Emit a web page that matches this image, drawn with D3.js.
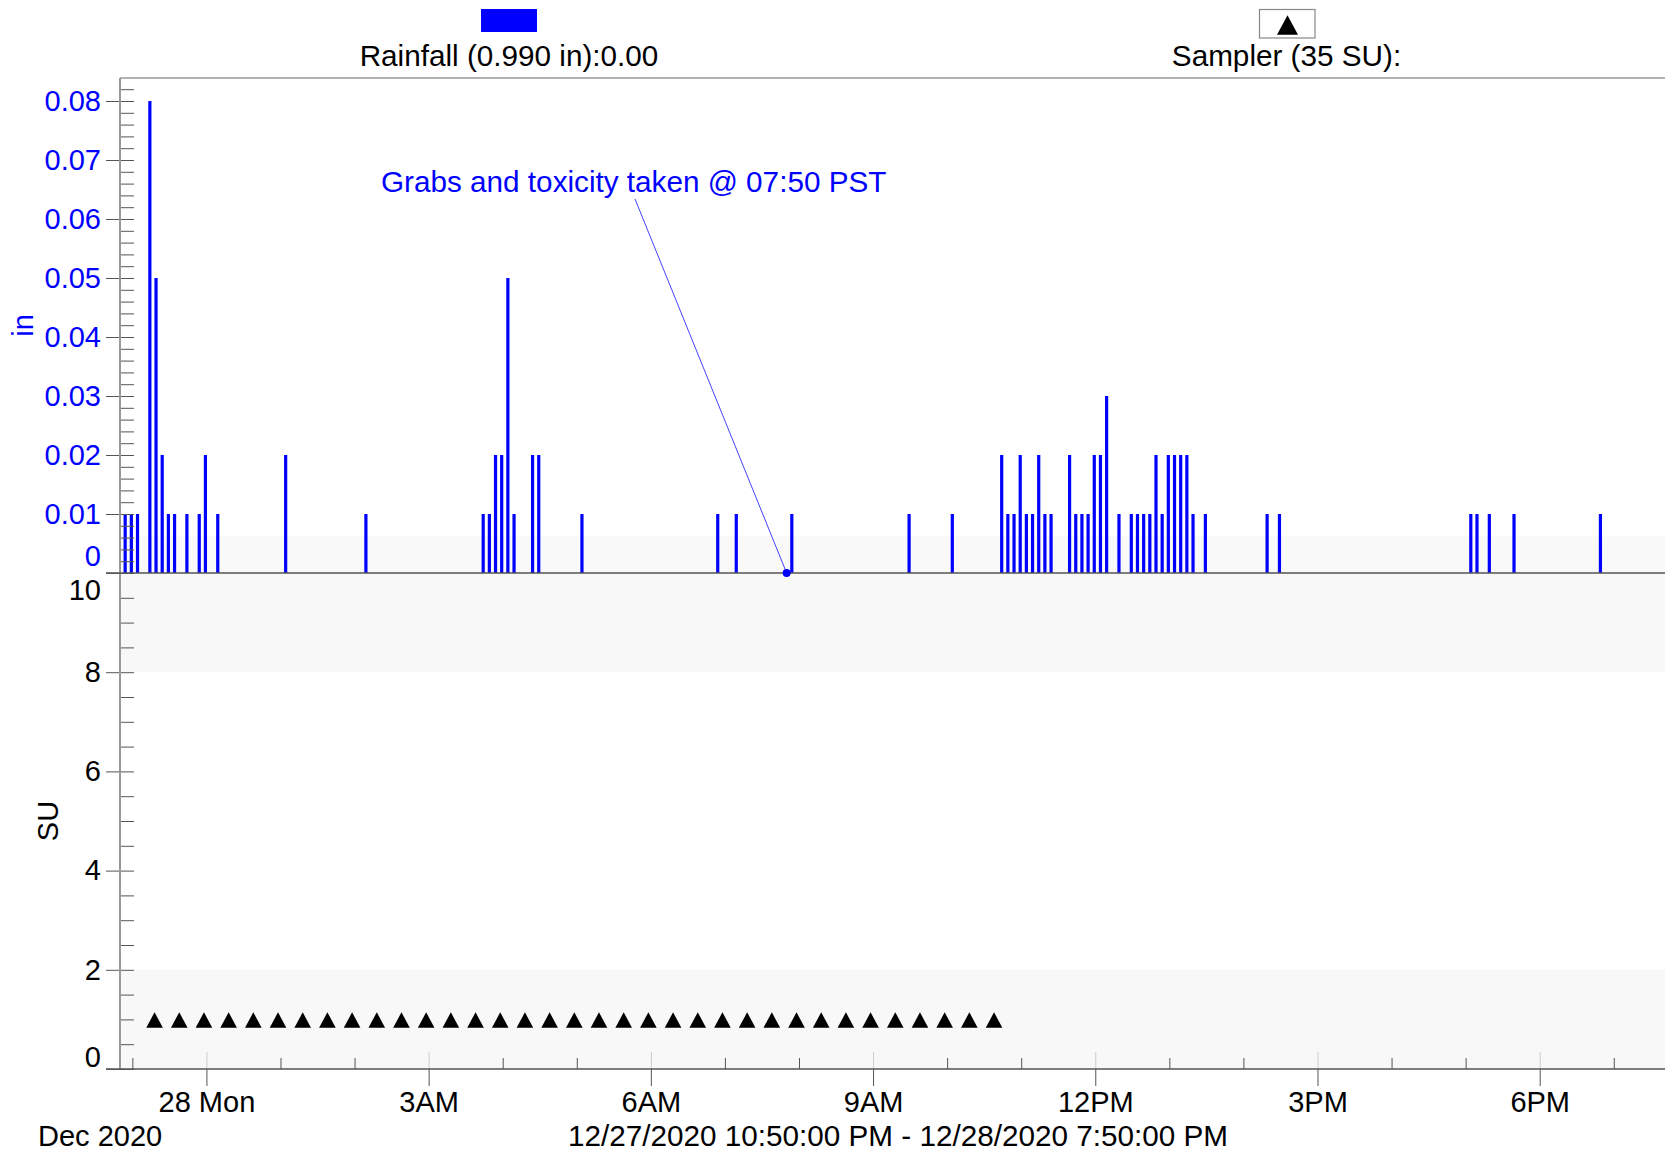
<!DOCTYPE html>
<html><head><meta charset="utf-8">
<script src="https://cdn.jsdelivr.net/npm/d3@7"></script>
<style>
html,body{margin:0;padding:0;background:#fff;overflow:hidden}
svg{display:block}
text{font-family:"Liberation Sans",Arial,sans-serif}
</style></head><body>
<svg id="chart" width="1665" height="1154"></svg>
<script>
// ---------------- DATA ----------------
const rainTimes = [
  "2020-12-27 22:55","2020-12-27 23:00","2020-12-27 23:05","2020-12-27 23:15","2020-12-27 23:20",
  "2020-12-27 23:25","2020-12-27 23:30","2020-12-27 23:35","2020-12-27 23:45","2020-12-27 23:55",
  "2020-12-28 00:00","2020-12-28 00:10","2020-12-28 01:05","2020-12-28 02:10",
  "2020-12-28 03:45","2020-12-28 03:50","2020-12-28 03:55","2020-12-28 04:00","2020-12-28 04:05",
  "2020-12-28 04:10","2020-12-28 04:25","2020-12-28 04:30","2020-12-28 05:05",
  "2020-12-28 06:55","2020-12-28 07:10","2020-12-28 07:55","2020-12-28 09:30","2020-12-28 10:05",
  "2020-12-28 10:45","2020-12-28 10:50","2020-12-28 10:55","2020-12-28 11:00","2020-12-28 11:05",
  "2020-12-28 11:10","2020-12-28 11:15","2020-12-28 11:20","2020-12-28 11:25",
  "2020-12-28 11:40","2020-12-28 11:45","2020-12-28 11:50","2020-12-28 11:55","2020-12-28 12:00",
  "2020-12-28 12:05","2020-12-28 12:10","2020-12-28 12:20","2020-12-28 12:30","2020-12-28 12:35",
  "2020-12-28 12:40","2020-12-28 12:45","2020-12-28 12:50","2020-12-28 12:55","2020-12-28 13:00",
  "2020-12-28 13:05","2020-12-28 13:10","2020-12-28 13:15","2020-12-28 13:20","2020-12-28 13:30",
  "2020-12-28 14:20","2020-12-28 14:30","2020-12-28 17:05","2020-12-28 17:10","2020-12-28 17:20",
  "2020-12-28 17:40","2020-12-28 18:50"
];
const rainValues = [
  0.01,0.01,0.01,0.08,0.05,
  0.02,0.01,0.01,0.01,0.01,
  0.02,0.01,0.02,0.01,
  0.01,0.01,0.02,0.02,0.05,
  0.01,0.02,0.02,0.01,
  0.01,0.01,0.01,0.01,0.01,
  0.02,0.01,0.01,0.02,0.01,
  0.01,0.02,0.01,0.01,
  0.02,0.01,0.01,0.01,0.02,
  0.02,0.03,0.01,0.01,0.01,
  0.01,0.01,0.02,0.01,0.02,
  0.02,0.02,0.02,0.01,0.01,
  0.01,0.01,0.01,0.01,0.01,
  0.01,0.01
];
const samplerTimes = [
  "2020-12-27 23:18","2020-12-27 23:38","2020-12-27 23:58",
  "2020-12-28 00:18","2020-12-28 00:38","2020-12-28 00:58",
  "2020-12-28 01:18","2020-12-28 01:38","2020-12-28 01:58",
  "2020-12-28 02:18","2020-12-28 02:38","2020-12-28 02:58",
  "2020-12-28 03:18","2020-12-28 03:38","2020-12-28 03:58",
  "2020-12-28 04:18","2020-12-28 04:38","2020-12-28 04:58",
  "2020-12-28 05:18","2020-12-28 05:38","2020-12-28 05:58",
  "2020-12-28 06:18","2020-12-28 06:38","2020-12-28 06:58",
  "2020-12-28 07:18","2020-12-28 07:38","2020-12-28 07:58",
  "2020-12-28 08:18","2020-12-28 08:38","2020-12-28 08:58",
  "2020-12-28 09:18","2020-12-28 09:38","2020-12-28 09:58",
  "2020-12-28 10:18","2020-12-28 10:38"
];
const samplerValues = [1,1,1,1,1,1,1,1,1,1,1,1,1,1,1,1,1,1,1,1,1,1,1,1,1,1,1,1,1,1,1,1,1,1,1];

const timeDomain = ["2020-12-27 22:50","2020-12-28 19:50"];
const timeTicks = ["2020-12-28 00:00","2020-12-28 03:00","2020-12-28 06:00","2020-12-28 09:00",
                   "2020-12-28 12:00","2020-12-28 15:00","2020-12-28 18:00"];
const timeTickLabels = ["28 Mon","3AM","6AM","9AM","12PM","3PM","6PM"];
const timeMinorTicks = ["2020-12-27 23:00","2020-12-28 01:00","2020-12-28 02:00","2020-12-28 04:00",
  "2020-12-28 05:00","2020-12-28 07:00","2020-12-28 08:00","2020-12-28 10:00","2020-12-28 11:00",
  "2020-12-28 13:00","2020-12-28 14:00","2020-12-28 16:00","2020-12-28 17:00","2020-12-28 19:00"];

const rainDomain = [0, 0.08];
const rainTicks = [0,0.01,0.02,0.03,0.04,0.05,0.06,0.07,0.08];
const rainTickLabels = ["0","0.01","0.02","0.03","0.04","0.05","0.06","0.07","0.08"];
const rainMinorTicks = [0,0.002,0.004,0.006,0.008,0.01,0.012,0.014,0.016,0.018,0.02,0.022,0.024,0.026,0.028,
  0.03,0.032,0.034,0.036,0.038,0.04,0.042,0.044,0.046,0.048,0.05,0.052,0.054,0.056,0.058,
  0.06,0.062,0.064,0.066,0.068,0.07,0.072,0.074,0.076,0.078,0.08,0.082];
const suDomain = [0, 10];
const suTicks = [0,2,4,6,8,10];
const suTickLabels = ["0","2","4","6","8","10"];
const suMinorTicks = [0,0.5,1,1.5,2,2.5,3,3.5,4,4.5,5,5.5,6,6.5,7,7.5,8,8.5,9,9.5,10];
const suBands = [[8,10],[0,2]];
const rainBands = [[0,0.0062]];

const annotationTime = "2020-12-28 07:50";
const annotationText = "Grabs and toxicity taken @ 07:50 PST";
const rainLegend = "Rainfall (0.990 in):0.00";
const samplerLegend = "Sampler (35 SU):";
const dateLabel = "Dec 2020";
const rangeLabel = "12/27/2020 10:50:00 PM - 12/28/2020 7:50:00 PM";

// ---------------- LAYOUT ----------------
const W = 1665, H = 1154;
const L = 120, R = 1675.5;
const topY = 78, midY = 573, botY = 1069;
const BLUE = "#0000ff";
const FS = 29;      // tick labels
const FSL = 29.7;   // legend / annotation / footer

const parse = d3.timeParse("%Y-%m-%d %H:%M");
const x = d3.scaleTime().domain(timeDomain.map(parse)).range([L, R]);
const yRain = d3.scaleLinear().domain(rainDomain).range([midY, 101]);
const ySU = d3.scaleLinear().domain(suDomain).range([botY, midY]);

const svg = d3.select("#chart");
svg.append("rect").attr("width", W).attr("height", H).attr("fill", "#fff");

// background bands
svg.append("g").selectAll("rect").data(suBands).join("rect")
  .attr("x", L).attr("width", W - L)
  .attr("y", d => ySU(d[1])).attr("height", d => ySU(d[0]) - ySU(d[1]))
  .attr("fill", "#f8f8f8");
svg.append("g").selectAll("rect").data(rainBands).join("rect")
  .attr("x", L).attr("width", W - L)
  .attr("y", d => yRain(d[1])).attr("height", d => yRain(d[0]) - yRain(d[1]))
  .attr("fill", "#f9f9f9");

// top border
svg.append("line").attr("x1", L).attr("x2", W).attr("y1", topY).attr("y2", topY)
  .attr("stroke", "#999").attr("stroke-width", 1.5);

// rain bars
const rain = rainTimes.map((t, i) => ({t: parse(t), v: rainValues[i]}));
svg.append("g").selectAll("rect").data(rain).join("rect")
  .attr("x", d => x(d.t) - 2.6).attr("width", 3.2)
  .attr("y", d => yRain(d.v)).attr("height", d => yRain(0) - yRain(d.v))
  .attr("fill", BLUE);

// sampler triangles
const tri = {
  draw(ctx, size) {
    const w = Math.sqrt(size), h = w * 0.93;
    ctx.moveTo(0, -h / 2); ctx.lineTo(w / 2, h / 2); ctx.lineTo(-w / 2, h / 2); ctx.closePath();
  }
};
const samp = samplerTimes.map((t, i) => ({t: parse(t), v: samplerValues[i]}));
svg.append("g").selectAll("path").data(samp).join("path")
  .attr("transform", d => `translate(${x(d.t)},${ySU(d.v) + 0.6})`)
  .attr("d", d3.symbol().type(tri).size(16.6 * 16.6))
  .attr("fill", "#000");

// ---------------- AXES ----------------
function styleAxis(g, color, stroke) {
  g.select(".domain").remove();
  g.selectAll(".tick line").attr("stroke", stroke || "#555");
  g.selectAll(".tick text").attr("fill", color || "#000").attr("font-size", FS)
    .attr("font-family", '"Liberation Sans",Arial,sans-serif');
}
// upper y axis
svg.append("g").attr("transform", `translate(${L},0)`)
  .call(d3.axisLeft(yRain).tickValues(rainMinorTicks).tickSize(-14).tickFormat(""))
  .call(g => styleAxis(g));
const gRain = svg.append("g").attr("transform", `translate(${L},0)`)
  .call(d3.axisLeft(yRain).tickValues(rainTicks).tickSize(14).tickPadding(5)
        .tickFormat((d, i) => rainTickLabels[i]))
  .call(g => styleAxis(g, BLUE));
gRain.selectAll(".tick text").filter(d => d === 0).attr("dy", "-0.27em");

// lower y axis
svg.append("g").attr("transform", `translate(${L},0)`)
  .call(d3.axisLeft(ySU).tickValues(suMinorTicks).tickSize(-14).tickFormat(""))
  .call(g => styleAxis(g));
const gSU = svg.append("g").attr("transform", `translate(${L},0)`)
  .call(d3.axisLeft(ySU).tickValues(suTicks).tickSize(14).tickPadding(5)
        .tickFormat((d, i) => suTickLabels[i]))
  .call(g => styleAxis(g, "#000"));
gSU.selectAll(".tick text").filter(d => d === 10).attr("dy", "0.91em");
gSU.selectAll(".tick text").filter(d => d === 0).attr("dy", "-0.1em");

// left axis line
svg.append("line").attr("x1", L).attr("x2", L).attr("y1", topY).attr("y2", botY)
  .attr("stroke", "#999").attr("stroke-width", 2);

// x axis
const gx = svg.append("g").attr("transform", `translate(0,${botY})`);
gx.append("g")
  .call(d3.axisBottom(x).tickValues(timeTicks.map(parse)).tickSize(-17).tickFormat(""))
  .call(g => styleAxis(g, "#000", "#ccc"));
gx.append("g")
  .call(d3.axisBottom(x).tickValues(timeMinorTicks.map(parse)).tickSize(-11).tickFormat(""))
  .call(g => styleAxis(g));
gx.append("g")
  .call(d3.axisBottom(x).tickValues(timeTicks.map(parse)).tickSize(17).tickPadding(5)
        .tickFormat((d, i) => timeTickLabels[i]))
  .call(g => styleAxis(g, "#000"));

// divider line and bottom axis line
svg.append("line").attr("x1", 106).attr("x2", W).attr("y1", midY).attr("y2", midY)
  .attr("stroke", "#555").attr("stroke-width", 1.5);
svg.append("line").attr("x1", 106).attr("x2", W).attr("y1", botY).attr("y2", botY)
  .attr("stroke", "#555").attr("stroke-width", 1.5);

// axis titles
svg.append("text").attr("transform", `translate(33,${(topY + midY) / 2}) rotate(-90)`)
  .attr("text-anchor", "middle").attr("font-size", FS).attr("fill", BLUE).text("in");
svg.append("text").attr("transform", `translate(58,${(midY + botY) / 2}) rotate(-90)`)
  .attr("text-anchor", "middle").attr("font-size", FS).attr("fill", "#000").text("SU");

// bottom labels
svg.append("text").attr("x", 38).attr("y", 1146).attr("font-size", FS).attr("fill", "#000").text(dateLabel);
svg.append("text").attr("x", 898).attr("y", 1146).attr("text-anchor", "middle")
  .attr("font-size", FSL).attr("fill", "#000").text(rangeLabel);

// annotation
const ax = x(parse(annotationTime)), ay = yRain(0);
svg.append("line").attr("x1", 635).attr("y1", 199).attr("x2", ax).attr("y2", ay)
  .attr("stroke", "#4444ff").attr("stroke-width", 1);
svg.append("circle").attr("cx", ax).attr("cy", ay).attr("r", 4).attr("fill", BLUE);
svg.append("text").attr("x", 381).attr("y", 192).attr("font-size", FSL).attr("fill", BLUE)
  .text(annotationText);

// legend
svg.append("rect").attr("x", 481).attr("y", 9).attr("width", 56).attr("height", 23).attr("fill", BLUE);
svg.append("text").attr("x", 509).attr("y", 66).attr("text-anchor", "middle")
  .attr("font-size", FSL).attr("fill", "#000").text(rainLegend);
svg.append("rect").attr("x", 1259.5).attr("y", 9.5).attr("width", 55.5).attr("height", 28.5)
  .attr("fill", "#fff").attr("stroke", "#888").attr("stroke-width", 1.2);
svg.append("path").attr("transform", "translate(1287.5,25)")
  .attr("d", d3.symbol().type(tri).size(21 * 21)).attr("fill", "#000");
svg.append("text").attr("x", 1286.5).attr("y", 66).attr("text-anchor", "middle")
  .attr("font-size", FSL).attr("fill", "#000").text(samplerLegend);
</script>
</body></html>
